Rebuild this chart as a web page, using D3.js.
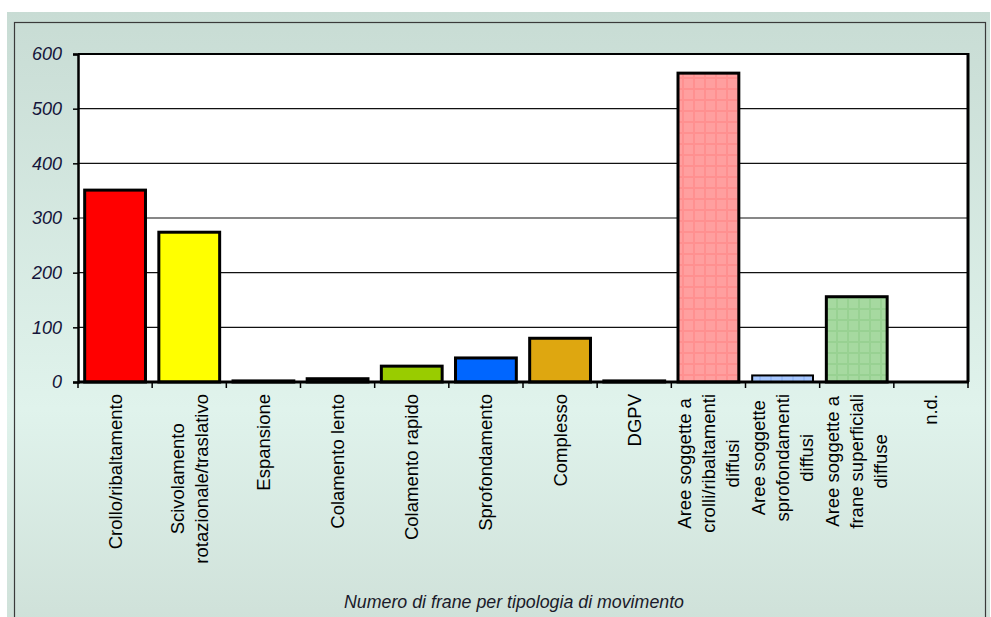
<!DOCTYPE html>
<html><head><meta charset="utf-8">
<script src="https://cdn.jsdelivr.net/npm/d3@7"></script>
<style>html,body{margin:0;padding:0;background:#fff;}svg{display:block;}</style>
</head><body>
<svg id="c" width="991" height="617"></svg>
<script>
const categories = [
  ["Crollo/ribaltamento"],
  ["Scivolamento", "rotazionale/traslativo"],
  ["Espansione"],
  ["Colamento lento"],
  ["Colamento rapido"],
  ["Sprofondamento"],
  ["Complesso"],
  ["DGPV"],
  ["Aree soggette a", "crolli/ribaltamenti", "diffusi"],
  ["Aree soggette", "sprofondamenti", "diffusi"],
  ["Aree soggette a", "frane superficiali", "diffuse"],
  ["n.d."]
];
const values = [351, 274, 2, 6, 29, 44, 80, 2, 565, 12, 156, 0];
const barColors = ["#ff0000", "#ffff00", "#1a1a1a", "#1a1a1a", "#99cc00", "#0066ff", "#dea710", "#1a1a1a", "pat-pink", "pat-blue", "pat-green", "#ffffff"];
const yTicks = [0, 100, 200, 300, 400, 500, 600];
const title = "Numero di frane per tipologia di movimento";

const svg = d3.select("#c");
const defs = svg.append("defs");

const grad = defs.append("linearGradient").attr("id", "bg").attr("x1", 0).attr("y1", 0).attr("x2", 0).attr("y2", 1);
grad.append("stop").attr("offset", "0%").attr("stop-color", "#c8dcd4");
grad.append("stop").attr("offset", "65%").attr("stop-color", "#e0f3ec");
grad.append("stop").attr("offset", "100%").attr("stop-color", "#cfe1d9");

function makePattern(id, base, line) {
  const p = defs.append("pattern").attr("id", id).attr("patternUnits", "userSpaceOnUse")
    .attr("width", 11).attr("height", 11);
  p.append("rect").attr("width", 11).attr("height", 11).attr("fill", base);
  p.append("rect").attr("x", 0).attr("y", 0).attr("width", 11).attr("height", 2).attr("fill", line);
  p.append("rect").attr("x", 0).attr("y", 0).attr("width", 2).attr("height", 11).attr("fill", line);
}
makePattern("pat-pink", "#ff9f9f", "#ff9090");
makePattern("pat-blue", "#a8c8ff", "#98bbf8");
makePattern("pat-green", "#a6d9a0", "#98d192");

// background
svg.append("rect").attr("x", 7).attr("y", 12).attr("width", 983).attr("height", 610).attr("fill", "url(#bg)");
svg.append("rect").attr("x", 14.5).attr("y", 22.5).attr("width", 971).attr("height", 620)
  .attr("fill", "none").attr("stroke", "#3a3a3a").attr("stroke-width", 1.2);

const pLeft = 78, pRight = 968, pTop = 54, pBottom = 382;
const labels = categories.map(d => d.join(" "));
const x = d3.scaleBand().domain(labels).range([pLeft, pRight]).paddingInner(0.18).paddingOuter(0.09);
const y = d3.scaleLinear().domain([0, 600]).range([pBottom, pTop]);
const step = x.step();

// plot area
svg.append("rect").attr("x", pLeft).attr("y", pTop).attr("width", pRight - pLeft).attr("height", pBottom - pTop).attr("fill", "#fff");

// gridlines
svg.append("g").selectAll("line").data(yTicks.filter(t => t > 0 && t < 600)).join("line")
  .attr("x1", pLeft).attr("x2", pRight).attr("y1", d => y(d)).attr("y2", d => y(d))
  .attr("stroke", "#111").attr("stroke-width", 1.2);

// bars
svg.append("g").selectAll("rect").data(values).join("rect")
  .attr("x", (d, i) => x(labels[i]))
  .attr("y", d => y(d))
  .attr("width", x.bandwidth())
  .attr("height", d => Math.max(0, pBottom - y(d)))
  .attr("fill", (d, i) => barColors[i].startsWith("pat") ? `url(#${barColors[i]})` : barColors[i])
  .attr("stroke", (d, i) => d > 0 ? "#000" : "none")
  .attr("stroke-width", (d, i) => i === 9 ? 2 : 3);

// plot border
svg.append("line").attr("x1", pLeft).attr("x2", pRight).attr("y1", pTop).attr("y2", pTop).attr("stroke", "#000").attr("stroke-width", 2);
svg.append("line").attr("x1", pRight).attr("x2", pRight).attr("y1", pTop - 1).attr("y2", pBottom).attr("stroke", "#000").attr("stroke-width", 3);

// y axis
const yAxis = d3.axisLeft(y).tickValues(yTicks).tickSize(5).tickPadding(11).tickFormat(d3.format("d"));
const gy = svg.append("g").attr("transform", `translate(${pLeft},0)`).call(yAxis);
gy.select(".domain").attr("stroke", "#000").attr("stroke-width", 2.5);
gy.selectAll(".tick line").attr("stroke", "#000").attr("stroke-width", 1.5);
gy.selectAll(".tick text").attr("font-family", "Liberation Sans, Arial, sans-serif")
  .attr("font-style", "italic").attr("font-size", 18).attr("fill", "#15153a");

// x axis: ticks at category boundaries
const boundaries = d3.range(categories.length + 1).map(i => pLeft + i * step);
svg.append("line").attr("x1", pLeft).attr("x2", pRight + 1).attr("y1", pBottom).attr("y2", pBottom).attr("stroke", "#000").attr("stroke-width", 3);
svg.append("g").selectAll("line").data(boundaries).join("line")
  .attr("x1", d => d).attr("x2", d => d).attr("y1", pBottom).attr("y2", pBottom + 6)
  .attr("stroke", "#000").attr("stroke-width", 1.5);

// category labels
const lab = svg.append("g").attr("font-family", "Liberation Sans, Arial, sans-serif").attr("font-size", 18.5).attr("fill", "#000");
categories.forEach((lines, i) => {
  const cx = x(labels[i]) + x.bandwidth() / 2;
  const g = lab.append("g");
  const texts = lines.map((l, j) => g.append("text").attr("text-anchor", "middle")
    .attr("x", 0).attr("y", (j - (lines.length - 1) / 2) * 24).attr("dy", "0.35em").text(l));
  const maxW = d3.max(texts, t => t.node().getComputedTextLength());
  g.attr("transform", `translate(${cx},${394 + maxW / 2}) rotate(-90)`);
});

// title
svg.append("text").attr("x", 514).attr("y", 608).attr("text-anchor", "middle")
  .attr("font-family", "Liberation Sans, Arial, sans-serif").attr("font-style", "italic")
  .attr("font-size", 17.8).attr("fill", "#1a1a2a").text(title);
</script>
</body></html>
